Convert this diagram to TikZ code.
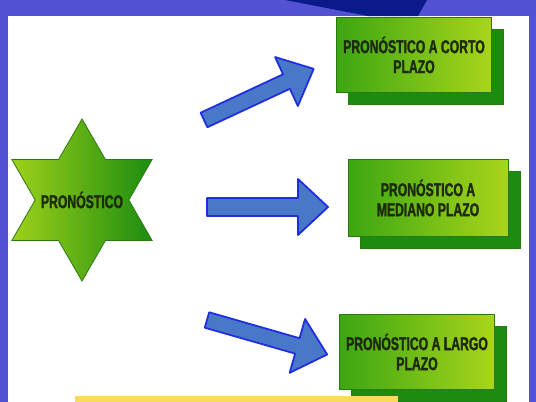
\documentclass[tikz,border=0pt]{standalone}
\usepackage{fontspec}
\usepackage{tikz}
\usetikzlibrary{shapes.geometric}
\usetikzlibrary{shadows}
\usetikzlibrary{positioning}

\newfontfamily\labelfont[FakeStretch=0.66,FakeBold=1.5]{Liberation Sans}

\definecolor{bgblue}{HTML}{5252D2}
\definecolor{navyblue}{HTML}{0A1A8A}
\definecolor{arrowfill}{HTML}{4A78C8}
\definecolor{arrowline}{HTML}{1F2FE0}
\definecolor{lightgreen}{HTML}{A9D51B}
\definecolor{midgreen}{HTML}{3CA612}
\definecolor{darkgreen}{HTML}{1C8C10}
\definecolor{edgegreen}{HTML}{2A7A12}
\definecolor{labelink}{HTML}{1E2A0C}
\definecolor{baryellow}{HTML}{F9DC5C}

\begin{document}
\begin{tikzpicture}[
            x = 1pt, y = -1pt, % pixel grid, y going down
            font = \labelfont\bfseries\fontsize{18.5}{20}\selectfont
        ]

        \tikzstyle{box}=[
            rectangle,
            draw = edgegreen,
            left color = midgreen,
            right color = lightgreen,
            text = labelink,
            align = center,
            inner sep = 0pt,
            minimum width = 155pt,
            minimum height = 75pt,
            drop shadow = {shadow xshift = 12pt, shadow yshift = -12pt,
                           fill = darkgreen, draw = edgegreen, opacity = 1}
        ]
        \tikzstyle{blockarrow}=[
            draw = arrowline,
            fill = arrowfill,
            line width = 1.8pt,
            line join = round
        ]

% frame
        \fill[bgblue] (0,0) rectangle (536,402);
        \fill[white] (8,16) rectangle (529,402);
        \fill[navyblue] (285,0) -- (427,0) -- (418,16) -- (368,16) -- cycle;

% star
        \node[star, star points = 6, star point ratio = 1.73, minimum size = 162pt,
              inner sep = 0pt, draw = edgegreen, thick,
              left color = lightgreen!90!midgreen, right color = darkgreen] (STAR) at (82,200) {};
        \node[text = labelink] at (STAR) {PRONÓSTICO};

% boxes
        \node[box] (SHORT) at (414,55) {PRONÓSTICO A CORTO\\PLAZO};
        \node[box, minimum width = 160pt, minimum height = 77pt] (MEDIUM) at (428,198) {PRONÓSTICO A\\MEDIANO PLAZO};
        \node[box] (LONG) at (417,352) {PRONÓSTICO A LARGO\\PLAZO};

% arrows
        \draw[blockarrow, shift = {(204,120)}, rotate = 25]
            (0,-8) -- (91,-8) -- (91,-27) -- (121,0) -- (91,27) -- (91,8) -- (0,8) -- cycle;
        \draw[blockarrow, shift = {(207,207)}, rotate = 0]
            (0,-9) -- (91,-9) -- (91,-28) -- (121,0) -- (91,28) -- (91,9) -- (0,9) -- cycle;
        \draw[blockarrow, shift = {(207,320)}, rotate = -16]
            (0,-8) -- (94,-8) -- (94,-28) -- (125,0) -- (94,28) -- (94,8) -- (0,8) -- cycle;

% bottom bar
        \fill[baryellow] (75,396) rectangle (398,402);

\end{tikzpicture}
\end{document}
